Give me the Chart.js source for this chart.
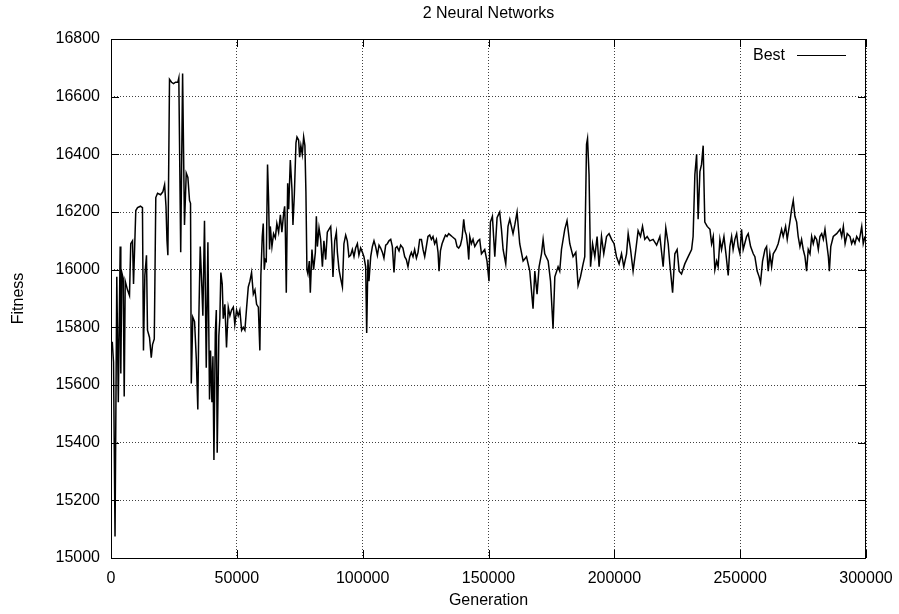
<!DOCTYPE html>
<html lang="en">
<head>
<meta charset="UTF-8">
<title>2 Neural Networks</title>
<script src="https://cdn.jsdelivr.net/npm/chart.js@4.4.1/dist/chart.umd.min.js"></script>
<style>
body {
margin: 0;
padding: 0;
background-color: #ffffff;
}
.wrap {
width: 899px;
height: 614px;
}
</style>
</head>
<body>
<div class="wrap">
<canvas id="fitnessChart" width="899" height="614"></canvas>
</div>
<script>
// values
const generations = [
500,1000,1600,2300,2900,3650,3900,4300,4850,5250,
5650,6550,7350,7850,8550,8950,9850,10550,11700,12500,
12900,13450,14100,14500,15300,16000,16500,17200,17800,18500,
19700,20600,21300,21850,22250,22600,23250,24050,24850,25650,
26550,26950,27700,28450,29200,29900,30550,31200,31600,31900,
32500,33200,33900,34500,34900,35450,36100,36500,37150,37850,
38500,39150,39550,40100,40500,40900,41450,41850,42200,42850,
43250,43650,44200,44600,45250,45900,46600,47250,47900,48600,
49200,49900,50550,51200,51900,52550,53200,53900,54550,55200,
55850,56550,57200,57850,58550,59150,59550,60100,60500,60900,
61300,61700,62200,62600,63000,63300,63950,64600,65300,65900,
66600,67300,67900,68600,69000,69250,69650,70200,70600,71250,
71900,72300,72850,73500,73900,74550,74950,75450,76000,76550,
77050,77450,77850,78250,78800,79200,79850,80500,81200,81600,
82000,82650,83300,84000,84600,85300,85950,86600,87300,87700,
88200,88900,89550,89950,90600,91250,91950,92550,93250,93900,
94550,95200,95900,96550,97200,97900,98500,99200,99900,100500,
101200,101600,102100,102500,103200,103850,104500,105150,105850,106500,
107150,107850,108450,109150,109800,110450,111150,111800,112450,113050,
113650,114450,115100,116000,116700,117350,118000,118700,119350,120000,
120650,121350,122000,122650,123350,124000,124650,125300,125950,126650,
127300,127950,128600,129300,129950,130350,130900,131550,132200,132900,
133500,134200,134850,135500,136200,136850,137500,138150,138850,139500,
140150,140650,141200,141750,142150,142550,143200,143850,144550,145200,
145850,146500,147200,148500,149400,150200,150750,151550,152500,153400,
154450,155150,155800,156850,157750,158450,159750,160450,161350,162400,
163750,165100,166400,167700,168400,169300,170100,171050,171700,172350,
173700,174650,175650,176350,177650,178300,179000,180300,181200,182300,
183600,184700,185600,186550,187600,188250,188950,189350,189950,190550,
191350,192250,193150,193950,194900,195800,196900,197900,198900,199900,
200850,201900,202850,203750,204850,205500,206450,207450,208550,209450,
210400,211200,212100,213050,214100,215400,216800,218100,219400,220450,
221400,222050,223150,224050,224950,225750,226700,228000,229350,230700,
231300,232000,232700,233300,234000,234650,235300,235950,236900,238000,
238650,239300,239950,240650,241250,241950,242600,243550,244350,245250,
245900,246600,247200,247900,248600,249200,249900,250550,251200,252550,
253200,254150,255200,255850,256750,257550,258100,258900,259850,260500,
261150,261800,262500,263150,264200,265100,266450,267100,268050,268700,
269750,270450,271100,271750,272450,273050,273750,274400,275050,275750,
276400,277050,277750,278400,279050,279700,280400,281050,281700,282400,
283050,283700,284400,285050,285450,286000,287000,288350,289700,290350,
291000,291700,292550,293650,294300,294950,295600,296300,297300,298300,
298900,299600
];
const fitness = [
15750,15680,15075,15975,15540,16080,15640,15990,15970,15560,
15960,15930,15910,16090,16100,15950,16205,16215,16220,16215,
15720,15980,16050,15790,15765,15695,15740,15760,16250,16265,
16260,16270,16295,16220,16100,16050,16660,16650,16645,16650,
16650,16665,16060,16680,16155,16335,16320,16240,16230,15605,
15835,15820,15690,15515,15830,16080,15940,15840,16170,15660,
16095,15550,15720,15540,15700,15340,15780,15860,15365,15770,
15830,15990,15950,15830,15880,15730,15870,15840,15860,15870,
15810,15860,15840,15860,15790,15800,15790,15870,15940,15960,
15990,15915,15930,15880,15870,15720,15980,16115,16160,16000,
16035,16030,16365,16250,16070,16150,16080,16125,16110,16160,
16130,16190,16130,16195,16220,16150,15920,16300,16210,16380,
16280,16155,16260,16440,16460,16450,16390,16430,16400,16460,
16430,16270,16000,15985,16030,15920,16070,16000,16060,16185,
16080,16145,16105,16010,16100,16035,16130,16140,16150,16090,
15975,16100,16130,16060,16000,15970,15940,16090,16120,16100,
16045,16050,16070,16045,16075,16090,16050,16075,16060,16045,
16010,15780,16035,15960,16045,16080,16100,16080,16050,16085,
16075,16060,16040,16085,16090,16100,16105,16080,15990,16075,
16080,16065,16085,16075,16045,16035,16010,16045,16060,16045,
16070,16040,16060,16105,16105,16070,16045,16080,16115,16120,
16105,16115,16090,16105,16060,15995,16065,16090,16105,16120,
16115,16125,16120,16115,16110,16105,16080,16075,16085,16110,
16175,16135,16120,16080,16035,16115,16090,16105,16080,16090,
16100,16105,16055,16070,16030,15960,16165,16185,16045,16180,
16200,16140,16070,16020,16150,16175,16125,16155,16200,16090,
16030,16045,15995,15865,15995,15915,16010,16055,16105,16055,
16030,15960,15795,15975,16010,15995,16070,16140,16170,16090,
16045,16060,15945,15975,16020,16045,16435,16455,16330,16010,
16090,16045,16115,16010,16115,16055,16115,16125,16105,16090,
16045,16020,16055,16010,16055,16125,16070,15995,16070,16135,
16115,16150,16105,16115,16100,16105,16085,16115,16010,16145,
16090,16020,15920,16055,16070,15995,15985,16020,16045,16070,
16115,16330,16400,16175,16340,16365,16430,16165,16150,16140,
16090,16115,16000,16030,16010,16105,16070,16115,16055,15980,
16080,16115,16070,16105,16125,16080,16055,16140,16070,16115,
16125,16080,16055,16045,15995,15975,15955,16030,16070,16080,
15995,16055,16010,16055,16070,16090,16140,16115,16150,16105,
16165,16210,16240,16185,16165,16115,16080,16105,16070,16045,
15995,16070,16055,16115,16090,16115,16105,16070,16115,16125,
16105,16140,16090,16045,15995,16080,16115,16125,16140,16115,
16150,16090,16125,16115,16090,16105,16090,16115,16100,16150,
16090,16115
];
const seriesLabel = 'Best';
const xTicks = [0, 50000, 100000, 150000, 200000, 250000, 300000];
const yTicks = [15000, 15200, 15400, 15600, 15800, 16000, 16200, 16400, 16600, 16800];

const fontFamily = '"Liberation Sans", Arial, Helvetica, sans-serif';
const fontSize = 16;

// gnuplot style frame with inward ticks on all four sides, and the key
const framePlugin = {
id: 'gnuplotFrame',
afterDatasetsDraw(chart) {
const ctx = chart.ctx;
const a = chart.chartArea;
const xs = chart.scales.x;
const ys = chart.scales.y;
const tickLen = 8;
ctx.save();
ctx.strokeStyle = '#000';
ctx.lineWidth = 1;
ctx.beginPath();
xTicks.forEach(v => {
const px = Math.round(xs.getPixelForValue(v)) + 0.5;
ctx.moveTo(px, a.bottom);
ctx.lineTo(px, a.bottom - tickLen);
ctx.moveTo(px, a.top);
ctx.lineTo(px, a.top + tickLen);
});
yTicks.forEach(v => {
const py = Math.round(ys.getPixelForValue(v)) + 0.5;
ctx.moveTo(a.left, py);
ctx.lineTo(a.left + tickLen, py);
ctx.moveTo(a.right, py);
ctx.lineTo(a.right - tickLen, py);
});
ctx.stroke();
ctx.strokeRect(Math.round(a.left) + 0.5, Math.round(a.top) + 0.5,
Math.round(a.right - a.left) - 1, Math.round(a.bottom - a.top));
// key: label then line sample
const keyY = a.top + 16.5;
ctx.fillStyle = '#000';
ctx.font = fontSize + 'px ' + fontFamily;
ctx.textAlign = 'right';
ctx.textBaseline = 'middle';
ctx.fillText(seriesLabel, a.right - 81, keyY);
ctx.beginPath();
ctx.moveTo(a.right - 69, keyY);
ctx.lineTo(a.right - 20, keyY);
ctx.stroke();
ctx.restore();
}
};

const ctx = document.getElementById('fitnessChart').getContext('2d');
const chart = new Chart(ctx, {
type: 'line',
data: {
datasets: [{
label: seriesLabel,
data: generations.map((g, i) => ({x: g, y: fitness[i]})),
borderColor: '#000000',
borderWidth: 1.5,
pointRadius: 0,
tension: 0,
fill: false
}]
},
options: {
responsive: false,
animation: false,
layout: {
padding: {left: 0, right: 33, top: 0, bottom: 0}
},
plugins: {
legend: {display: false},
tooltip: {enabled: false},
title: {
display: true,
text: '2 Neural Networks',
fullSize: false,
color: '#000',
font: {family: fontFamily, size: fontSize, weight: 'normal', lineHeight: 1.25},
padding: {top: 4, bottom: 15}
}
},
scales: {
x: {
type: 'linear',
min: 0,
max: 300000,
afterBuildTicks(scale) {
scale.ticks = xTicks.map(v => ({value: v}));
},
afterFit(scale) {
scale.height = 56;
// the end labels may overhang the plot, as in the reference
scale.paddingLeft = 0;
scale.paddingRight = 0;
},
ticks: {
color: '#000',
padding: 11,
maxRotation: 0,
font: {family: fontFamily, size: fontSize},
callback: v => String(v)
},
grid: {
color: 'rgba(0,0,0,0.75)',
lineWidth: 1,
drawTicks: false
},
border: {display: false, dash: [1, 2]},
title: {
display: true,
text: 'Generation',
color: '#000',
font: {family: fontFamily, size: fontSize, lineHeight: 1.25},
padding: {top: 0, bottom: 3}
}
},
y: {
type: 'linear',
min: 15000,
max: 16800,
afterBuildTicks(scale) {
scale.ticks = yTicks.map(v => ({value: v}));
},
afterFit(scale) {
scale.width = 111;
},
ticks: {
color: '#000',
padding: 11,
font: {family: fontFamily, size: fontSize},
callback: v => String(v)
},
grid: {
color: 'rgba(0,0,0,0.75)',
lineWidth: 1,
drawTicks: false
},
border: {display: false, dash: [1, 2]},
title: {
display: true,
text: 'Fitness',
color: '#000',
font: {family: fontFamily, size: fontSize, lineHeight: 1.25},
padding: {top: 9, bottom: 0}
}
}
}
},
plugins: [framePlugin]
});
</script>
</body>
</html>
